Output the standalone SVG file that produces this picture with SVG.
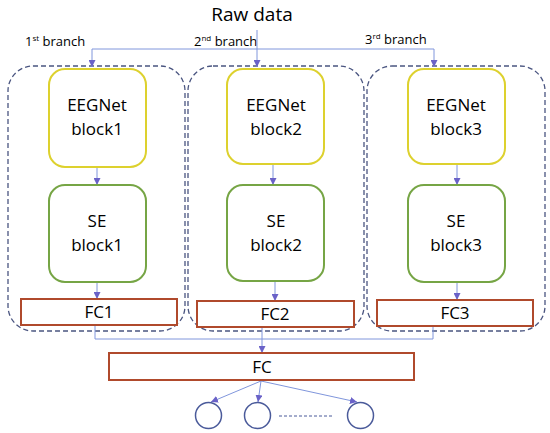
<svg xmlns="http://www.w3.org/2000/svg" width="550" height="433" viewBox="0 0 550 433">
<defs>
<marker id="ah" viewBox="0 0 10 10" refX="10" refY="5" markerWidth="7" markerHeight="7" markerUnits="userSpaceOnUse" orient="auto"><path d="M0,0 L10,5 L0,10 z" fill="#6a62c8"/></marker>
<style>
.t{font-family:"Open Sans","Liberation Sans",sans-serif;font-size:17px;fill:#000;text-anchor:middle}
.s{font-family:"Open Sans","Liberation Sans",sans-serif;font-size:13px;fill:#000}
.sup{font-size:8px}
.dash{fill:none;stroke:#4a5580;stroke-width:1.3;stroke-dasharray:5,3}
.yel{fill:#fff;stroke:#ddd12e;stroke-width:2}
.grn{fill:#fff;stroke:#76a545;stroke-width:2}
.fc{fill:#fff;stroke:#b04a2c;stroke-width:2}
.ln{fill:none;stroke:#8096dc;stroke-width:1}
.ar{fill:none;stroke:#8096dc;stroke-width:1;marker-end:url(#ah)}
.out{fill:#fff;stroke:#4a5a9a;stroke-width:1.5}
</style>
</defs>
<rect width="550" height="433" fill="#fff"/>
<g id="labels">
<text class="t" x="252" y="21" style="font-size:19px">Raw data</text>
<text class="s" x="25" y="46">1<tspan class="sup" dy="-5">st</tspan><tspan dy="5"> branch</tspan></text>
<text class="s" x="194" y="46">2<tspan class="sup" dy="-5">nd</tspan><tspan dy="5"> branch</tspan></text>
<text class="s" x="365" y="44">3<tspan class="sup" dy="-5">rd</tspan><tspan dy="5"> branch</tspan></text>
</g>
<g id="branch1"><rect class="dash" x="8" y="66" width="177" height="265" rx="25"/></g>
<g id="branch2"><rect class="dash" x="188" y="66" width="176" height="265" rx="25"/></g>
<g id="branch3"><rect class="dash" x="367" y="66" width="178" height="265" rx="25"/></g>
<g id="connectors">
<path class="ln" d="M257,30 V49 M92,49 H434"/>
<path class="ar" d="M92,49 V67"/>
<path class="ar" d="M257,49 V67"/>
<path class="ar" d="M434,49 V67"/>
<path class="ar" d="M97,167 V185"/>
<path class="ar" d="M273,164 V185"/>
<path class="ar" d="M457,164 V185"/>
<path class="ar" d="M97,282 V299"/>
<path class="ar" d="M275,281 V301"/>
<path class="ar" d="M457,282 V300"/>
<path class="ln" d="M95,325 V339 M433,326 V339 M95,339 H433 M262,327 V339"/>
<path class="ar" d="M262,339 V353"/>
<path class="ar" d="M261,381 L211,402"/>
<path class="ar" d="M261,381 L258,402"/>
<path class="ar" d="M261,381 L357,402"/>
</g>
<g id="eeg1"><rect class="yel" x="49" y="69" width="97" height="98" rx="16"/><text class="t" x="97" y="111">EEGNet</text><text class="t" x="97" y="135">block1</text></g>
<g id="eeg2"><rect class="yel" x="227" y="69" width="97" height="95" rx="16"/><text class="t" x="276" y="111">EEGNet</text><text class="t" x="276" y="135">block2</text></g>
<g id="eeg3"><rect class="yel" x="408" y="69" width="97" height="95" rx="16"/><text class="t" x="456" y="111">EEGNet</text><text class="t" x="456" y="135">block3</text></g>
<g id="se1"><rect class="grn" x="49" y="185" width="97" height="97" rx="16"/><text class="t" x="97" y="227">SE</text><text class="t" x="97" y="251">block1</text></g>
<g id="se2"><rect class="grn" x="227" y="185" width="97" height="96" rx="16"/><text class="t" x="276" y="227">SE</text><text class="t" x="276" y="251">block2</text></g>
<g id="se3"><rect class="grn" x="408" y="185" width="97" height="97" rx="16"/><text class="t" x="456" y="227">SE</text><text class="t" x="456" y="251">block3</text></g>
<g id="fc1"><rect class="fc" x="21" y="299" width="156" height="26"/><text class="t" x="99" y="318">FC1</text></g>
<g id="fc2"><rect class="fc" x="197" y="301" width="157" height="26"/><text class="t" x="275" y="320">FC2</text></g>
<g id="fc3"><rect class="fc" x="377" y="300" width="156" height="26"/><text class="t" x="455" y="319">FC3</text></g>
<g id="fc"><rect class="fc" x="109" y="353" width="305" height="27"/><text class="t" x="262" y="373">FC</text></g>
<g id="out1"><circle class="out" cx="208.5" cy="415.5" r="13"/></g>
<g id="out2"><circle class="out" cx="257.5" cy="415.5" r="13"/></g>
<g id="out3"><circle class="out" cx="360.5" cy="415.5" r="13"/></g>
<g id="dots"><line x1="279" y1="416" x2="333" y2="416" stroke="#4a5a9a" stroke-width="1" stroke-dasharray="3,2"/></g>
</svg>
